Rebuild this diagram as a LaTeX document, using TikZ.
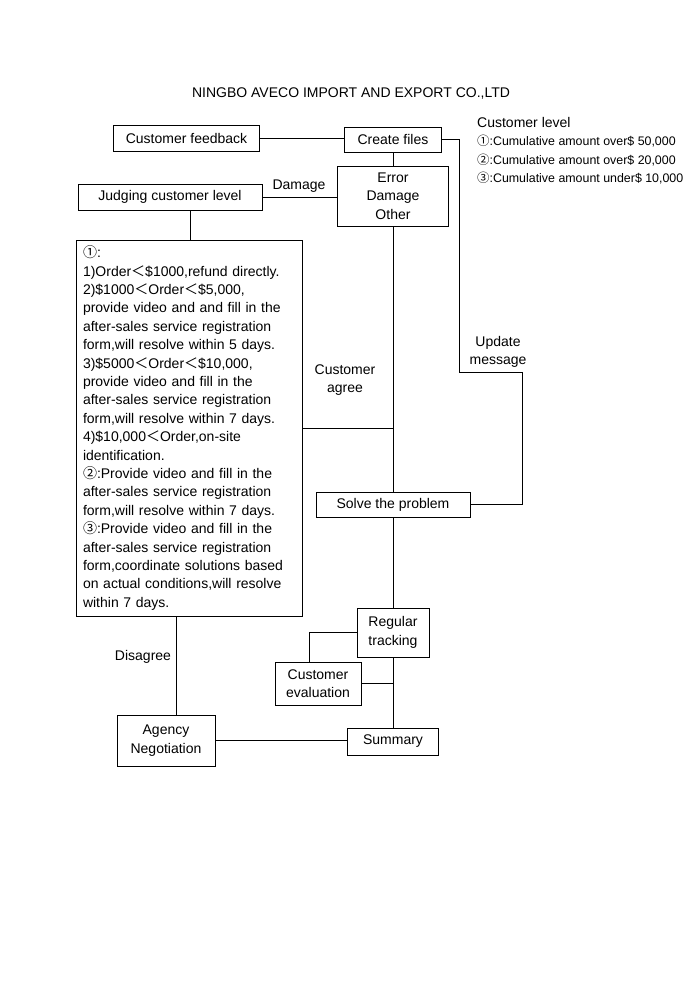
\documentclass[tikz,border=0pt]{standalone}
\usepackage{fontspec}
\setmainfont{Liberation Sans}
\newfontfamily\cjk{Noto Sans CJK SC}
\newcommand{\ltw}{{\cjk ＜}}
\newcommand{\ci}{{\cjk ①}}
\newcommand{\cii}{{\cjk ②}}
\newcommand{\ciii}{{\cjk ③}}

\begin{document}
\begin{tikzpicture}[x=1pt, y=-1pt, font=\fontsize{14}{18.4}\selectfont,
    box/.style={draw, rectangle, inner sep=0pt, align=center},
    lbl/.style={inner sep=0pt, align=center},
    small/.style={inner sep=0pt, anchor=west, font=\fontsize{12.4}{15}\selectfont}]
    \useasboundingbox (0,0) rectangle (700,990);

    % Title and customer levels
    \node[lbl] (title) at (351,94) {NINGBO AVECO IMPORT AND EXPORT CO.,LTD};
    \node[lbl, anchor=west] (level) at (477,122) {Customer level};
    \node[small] (level-1) at (477,141) {\ci:Cumulative amount over\$ 50,000};
    \node[small] (level-2) at (477,160) {\cii:Cumulative amount over\$ 20,000};
    \node[small] (level-3) at (477,178) {\ciii:Cumulative amount under\$ 10,000};

    % Boxes
    \node[box, minimum width=146, minimum height=26] (feedback) at (186.5,138) {Customer feedback};
    \node[box, minimum width=97, minimum height=25] (create) at (393,139.5) {Create files};
    \node[box, minimum width=111, minimum height=60] (kind) at (393,196) {Error\\Damage\\Other};
    \node[box, minimum width=184, minimum height=26] (judge) at (170,197) {Judging customer level};
    \node[box, minimum width=226, minimum height=376, text width=212, align=left] (rules) at (189,428)
        {\ci:\\
         1)Order\ltw\$1000,refund directly.\\
         2)\$1000\ltw Order\ltw\$5,000,\\
         provide video and and fill in the\\
         after-sales service registration\\
         form,will resolve within 5 days.\\
         3)\$5000\ltw Order\ltw\$10,000,\\
         provide video and fill in the\\
         after-sales service registration\\
         form,will resolve within 7 days.\\
         4)\$10,000\ltw Order,on-site\\
         identification.\\
         \cii:Provide video and fill in the\\
         after-sales service registration\\
         form,will resolve within 7 days.\\
         \ciii:Provide video and fill in the\\
         after-sales service registration\\
         form,coordinate solutions based\\
         on actual conditions,will resolve\\
         within 7 days.};
    \node[box, minimum width=154, minimum height=25] (solve) at (393,504.5) {Solve the problem};
    \node[box, minimum width=72, minimum height=49] (track) at (393,632.5) {Regular\\tracking};
    \node[box, minimum width=86, minimum height=43] (evaluate) at (318,683.5) {Customer\\evaluation};
    \node[box, minimum width=98, minimum height=51] (agency) at (166,740.5) {Agency\\Negotiation};
    \node[box, minimum width=91, minimum height=27] (summary) at (393,741.5) {Summary};

    % Labels
    \node[lbl] (damage) at (299,186) {Damage};
    \node[lbl] (agree) at (345,380) {Customer\\agree};
    \node[lbl] (update) at (498,352) {Update\\message};
    \node[lbl] (disagree) at (143,657) {Disagree};

    % Turning points
    \coordinate (upd-l) at (459,372);
    \coordinate (upd-r) at (522,372);
    \coordinate (agree-pt) at (393,428);
    \coordinate (judge-pt) at (190,0);
    \coordinate (dis-pt) at (176,0);
    \coordinate (eval-pt) at (309,0);

    % Connectors
    \draw (feedback.east) -- (feedback.east -| create.west);
    \draw (create.south) -- (kind.north);
    \draw (judge.east) -- (judge.east -| kind.west);
    \draw (judge.south -| judge-pt) -- (rules.north -| judge-pt);
    \draw (create.east) -| (upd-l) -- (upd-r) |- (solve.east);
    \draw (kind.south) -- (solve.north);
    \draw (agree-pt -| rules.east) -- (agree-pt);
    \draw (solve.south) -- (track.north);
    \draw (track.south) -- (summary.north);
    \draw (track.west) -| (evaluate.north -| eval-pt);
    \draw (evaluate.east) -- (evaluate.east -| track.south);
    \draw (rules.south -| dis-pt) -- (agency.north -| dis-pt);
    \draw (agency.east) -- (agency.east -| summary.west);
\end{tikzpicture}
\end{document}
